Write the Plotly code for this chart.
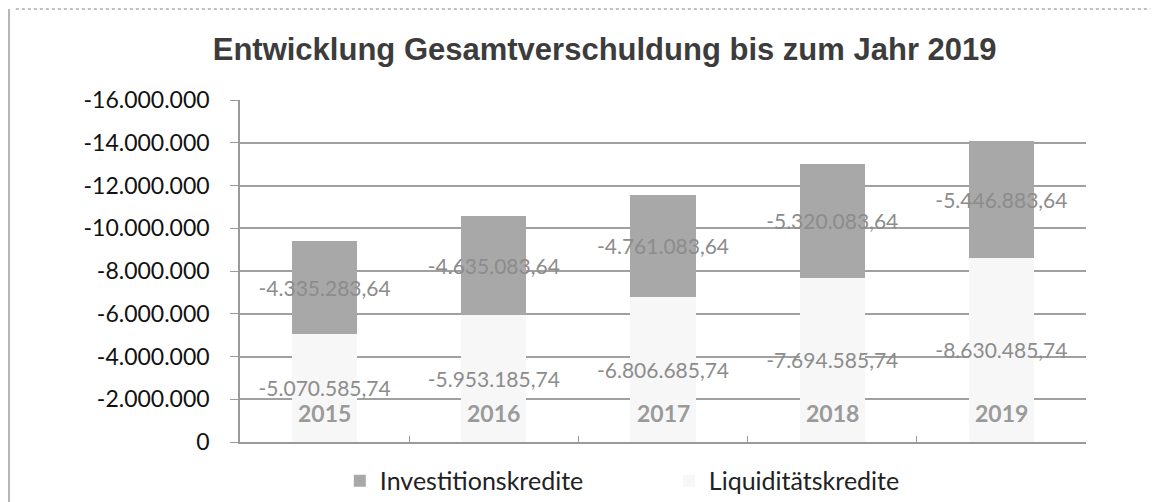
import plotly.graph_objects as go

# Daten aus dem Diagramm (Werte in Euro, negativ = Schulden)
years = ["2015", "2016", "2017", "2018", "2019"]
liquiditaetskredite = [-5070585.74, -5953185.74, -6806685.74, -7694585.74, -8630485.74]
investitionskredite = [-4335283.64, -4635083.64, -4761083.64, -5320083.64, -5446883.64]
y_ticks = [0, -2000000, -4000000, -6000000, -8000000, -10000000, -12000000, -14000000, -16000000]


def de_format(value, decimals=2):
    """Format a number the German way: -5.070.585,74"""
    s = f"{value:,.{decimals}f}"
    return s.replace(",", "X").replace(".", ",").replace("X", ".")


LABEL_FONT = dict(family="Lato, Noto Sans, sans-serif", size=21, color="#8c8c8c")

fig = go.Figure()

# Liquiditaetskredite (unten, fast weiss)
fig.add_trace(
    go.Bar(
        x=years,
        y=liquiditaetskredite,
        name="Liquiditätskredite",
        marker=dict(color="#f7f7f7", line=dict(width=0)),
        text=[de_format(v) for v in liquiditaetskredite],
        textposition="inside",
        insidetextanchor="middle",
        constraintext="none",
        textangle=0,
        textfont=LABEL_FONT,
        cliponaxis=False,
        legendrank=2,
    )
)

# Investitionskredite (oben, grau)
fig.add_trace(
    go.Bar(
        x=years,
        y=investitionskredite,
        name="Investitionskredite",
        marker=dict(color="#a8a8a8", line=dict(width=0)),
        text=[de_format(v) for v in investitionskredite],
        textposition="inside",
        insidetextanchor="middle",
        constraintext="none",
        textangle=0,
        textfont=LABEL_FONT,
        cliponaxis=False,
        legendrank=1,
    )
)

# Jahreszahlen sitzen im Original innerhalb der Balken, knapp ueber der Achse
# (x as category index, a string like "2015" would be read as a number)
year_labels = [
    dict(
        x=i,
        xref="x",
        y=0,
        yref="paper",
        yanchor="middle",
        yshift=29,
        text=f"<b>{year}</b>",
        showarrow=False,
        font=dict(family="Lato, Noto Sans, sans-serif", size=23, color="#9a9a9a"),
    )
    for i, year in enumerate(years)
]

# the page body has an 8px margin, so the margins are shifted by it
fig.update_layout(
    barmode="stack",
    bargap=0.615,
    width=1163,
    height=502,
    paper_bgcolor="white",
    plot_bgcolor="white",
    margin=dict(l=232, r=85, t=92, b=68, autoexpand=False),
    title=dict(
        text="<b>Entwicklung Gesamtverschuldung bis zum Jahr 2019</b>",
        font=dict(family="Liberation Sans, Arial, sans-serif", size=31, color="#3c3c3c"),
        x=0.431,
        xref="paper",
        xanchor="center",
        y=0.918,
        yref="container",
        yanchor="middle",
    ),
    xaxis=dict(
        type="category",
        range=[-0.5, len(years) - 0.5],
        showline=True,
        linecolor="#9a9a9a",
        linewidth=1.5,
        ticks="inside",
        tickson="boundaries",
        ticklen=6,
        tickcolor="#9a9a9a",
        showticklabels=False,
        showgrid=False,
    ),
    yaxis=dict(
        range=[0, -16000000],
        tickmode="array",
        tickvals=y_ticks,
        ticktext=[de_format(v, 0) for v in y_ticks],
        showline=True,
        linecolor="#9a9a9a",
        linewidth=1.5,
        ticks="outside",
        ticklen=8,
        tickcolor="#9a9a9a",
        ticklabelstandoff=16,
        tickfont=dict(family="Lato, Noto Sans, sans-serif", size=23, color="#111111"),
        showgrid=True,
        gridcolor="#a0a0a0",
        gridwidth=1.5,
        zeroline=False,
    ),
    legend=dict(
        orientation="h",
        traceorder="normal",
        x=0.118,
        xanchor="left",
        y=-0.114,
        yanchor="middle",
        entrywidth=284,
        font=dict(family="Lato, Noto Sans, sans-serif", size=25, color="#222222"),
    ),
    annotations=year_labels,
    shapes=[
        # Rahmen des eingescannten Diagramms
        dict(type="line", xref="paper", yref="paper", x0=-0.273, x1=-0.273, y0=1.266, y1=-0.2,
             line=dict(color="#b5b5b5", width=2)),
        dict(type="line", xref="paper", yref="paper", x0=-0.265, x1=1.076, y0=1.266, y1=1.266,
             line=dict(color="#c0c0c0", width=2, dash="dot")),
    ],
)

fig.write_html("out.html")
